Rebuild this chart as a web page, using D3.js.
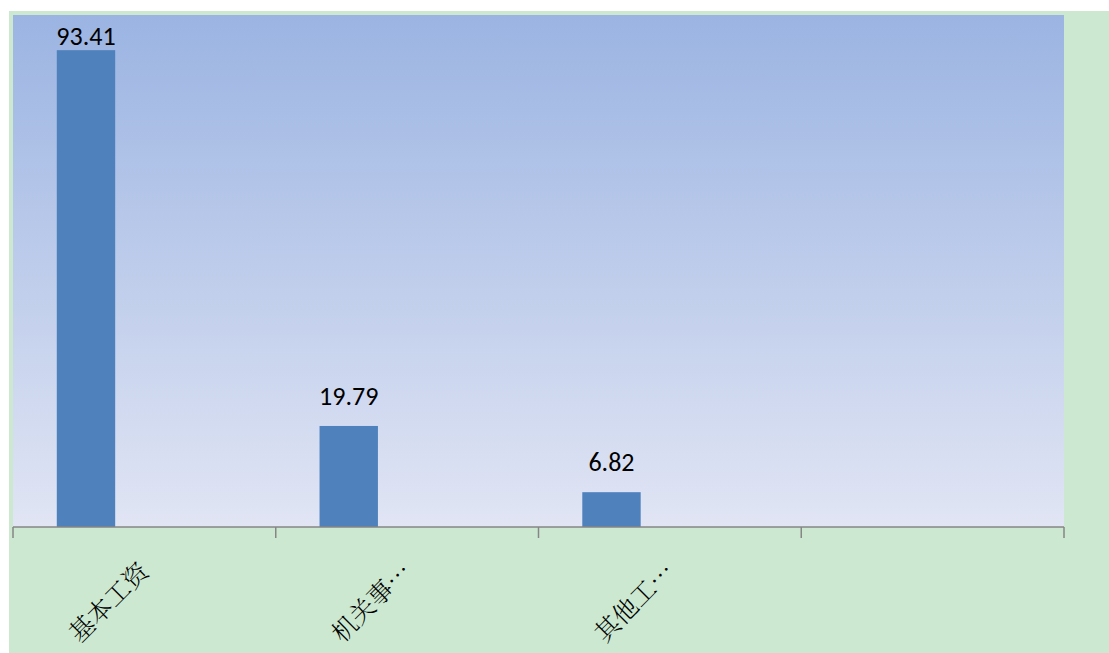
<!DOCTYPE html>
<html><head><meta charset="utf-8">
<script src="https://cdn.jsdelivr.net/npm/d3@7"></script>
<style>html,body{margin:0;padding:0;background:#fff;}svg{display:block;}</style>
</head><body>
<svg id="c" width="1109" height="653"></svg>
<script>
const categories = ["基本工资", "机关事…", "其他工…", ""];
const values = [93.41, 19.79, 6.82, null];
const valueLabels = ["93.41", "19.79", "6.82", ""];

const W = 1109, H = 653;
const svg = d3.select("#c");
const plot = {x0: 13, x1: 1064, y0: 15, y1: 527};

const defs = svg.append("defs");
const grad = defs.append("linearGradient").attr("id", "pg").attr("x1", 0).attr("y1", 0).attr("x2", 0).attr("y2", 1);
grad.append("stop").attr("offset", "0%").attr("stop-color", "#9bb4e2");
grad.append("stop").attr("offset", "100%").attr("stop-color", "#e1e5f4");

svg.append("rect").attr("x", 9).attr("y", 11).attr("width", W - 9).attr("height", H - 11).attr("fill", "#cce8d0");
svg.append("rect").attr("x", plot.x0).attr("y", plot.y0).attr("width", plot.x1 - plot.x0).attr("height", plot.y1 - plot.y0).attr("fill", "url(#pg)");

const x = d3.scaleBand().domain(d3.range(categories.length)).range([plot.x0, plot.x1]).padding(0);
const y = d3.scaleLinear().domain([0, 100.3]).range([plot.y1, plot.y0]);
const bw = x.bandwidth() / 4.5;

const data = categories.map((c, i) => ({c, v: values[i], l: valueLabels[i], i}));

svg.selectAll("rect.bar").data(data.filter(d => d.v != null)).enter().append("rect")
  .attr("class", "bar")
  .attr("x", d => x(d.i) + 0.75 * bw)
  .attr("width", bw)
  .attr("y", d => y(d.v))
  .attr("height", d => y(0) - y(d.v))
  .attr("fill", "#4f81bd");

svg.selectAll("text.val").data(data.filter(d => d.v != null)).enter().append("text")
  .attr("x", d => x(d.i) + 0.75 * bw + bw / 2)
  .attr("y", d => Math.max(y(d.v) - 21, 45))
  .attr("text-anchor", "middle")
  .attr("font-family", "Carlito, 'Open Sans', 'Liberation Sans', sans-serif")
  .attr("font-size", 26)
  .attr("fill", "#000")
  .text(d => d.l);

// axis
const ax = svg.append("g").attr("transform", `translate(0,${plot.y1})`);
ax.append("line").attr("x1", plot.x0).attr("x2", plot.x1).attr("y1", 0).attr("y2", 0).attr("stroke", "#868686").attr("stroke-width", 1.5);
const ticks = d3.range(categories.length + 1).map(i => i < categories.length ? x(i) : plot.x1);
ax.selectAll("line.t").data(ticks).enter().append("line")
  .attr("x1", d => d).attr("x2", d => d).attr("y1", 0).attr("y2", 11)
  .attr("stroke", "#868686").attr("stroke-width", 1.5);

ax.selectAll("text.cat").data(data).enter().append("text")
  .attr("transform", d => `translate(${x(d.i) + x.bandwidth() / 2 + 6},${46}) rotate(-45)`)
  .attr("text-anchor", "end")
  .attr("font-family", "'Noto Serif CJK SC', 'Noto Sans CJK SC', serif")
  .attr("font-size", 25)
  .attr("font-weight", 300)
  .attr("fill", "#000")
  .text(d => d.c);
</script>
</body></html>
